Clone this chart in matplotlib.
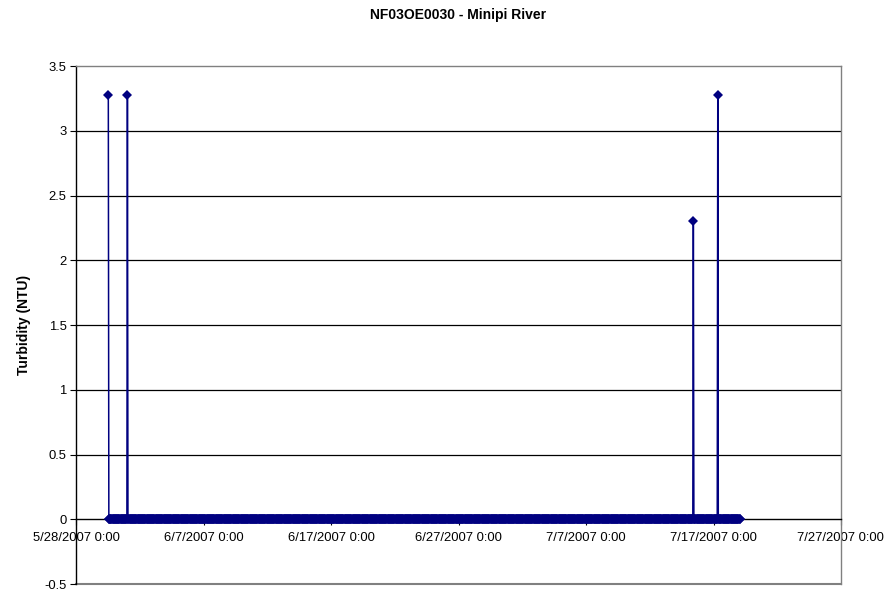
import pandas as pd
import numpy as np
import matplotlib
matplotlib.use('Agg')
import matplotlib.pyplot as plt
import matplotlib.dates as mdates
from matplotlib.ticker import FuncFormatter

# Datos: registro horario de turbidez, casi todo en cero con cuatro picos
inicio = '2007-05-30 12:00'
fin = '2007-07-19 02:00'
frecuencia = 'h'
picos_fecha = ['2007-05-30 12:00', '2007-06-01 00:00', '2007-07-15 10:00', '2007-07-17 08:00']
picos_valor = [3.28, 3.28, 2.3, 3.28]

fechas = pd.date_range(inicio, fin, freq=frecuencia)
serie = pd.Series(0.0, index=fechas)
for f, v in zip(picos_fecha, picos_valor):
    serie[pd.Timestamp(f)] = v

x_ticks = pd.date_range('2007-05-28', '2007-07-27', freq='10D')
y_ticks = [-0.5, 0, 0.5, 1, 1.5, 2, 2.5, 3, 3.5]

plt.rcParams['font.family'] = ['Liberation Sans', 'DejaVu Sans']
plt.rcParams['font.size'] = 9.4

fig = plt.figure(figsize=(8.88, 5.91), dpi=100)
ax = fig.add_axes([0.0861, 0.0118, 0.8609, 0.8765])

ax.plot(serie.index, serie.values, color='#000080', lw=1.1, marker='D',
        markersize=4.8, markeredgewidth=0, zorder=3)

ax.set_xlim(x_ticks[0], x_ticks[-1])
ax.set_ylim(-0.5, 3.5)
ax.set_xticks(x_ticks)
ax.xaxis.set_major_formatter(FuncFormatter(
    lambda v, p: '{d.month}/{d.day}/{d.year} 0:00'.format(d=mdates.num2date(v))))
ax.set_yticks(y_ticks)
ax.yaxis.set_major_formatter(FuncFormatter(lambda v, p: '%g' % v))

for y in y_ticks[2:-1]:
    ax.axhline(y, color='#000000', lw=0.9, zorder=1)

ax.spines['bottom'].set_position(('data', 0))
ax.spines['bottom'].set_color('black')
ax.spines['left'].set_color('black')
ax.spines['top'].set_color('#808080')
ax.spines['right'].set_color('#808080')
for s in ax.spines.values():
    s.set_linewidth(1.0)
ax.axhline(-0.5, color='#808080', lw=1.5, zorder=1, clip_on=False)

ax.tick_params(axis='x', direction='out', length=4, pad=5)
ax.tick_params(axis='y', direction='out', length=4, pad=3)

ax.set_ylabel('Turbidity (NTU)', fontweight='bold', fontsize=10, labelpad=10)
fig.text(0.5163, 0.975, 'NF03OE0030 - Minipi River', ha='center', va='center',
         fontweight='bold', fontsize=10)

fig.savefig('out.png', dpi=100)
